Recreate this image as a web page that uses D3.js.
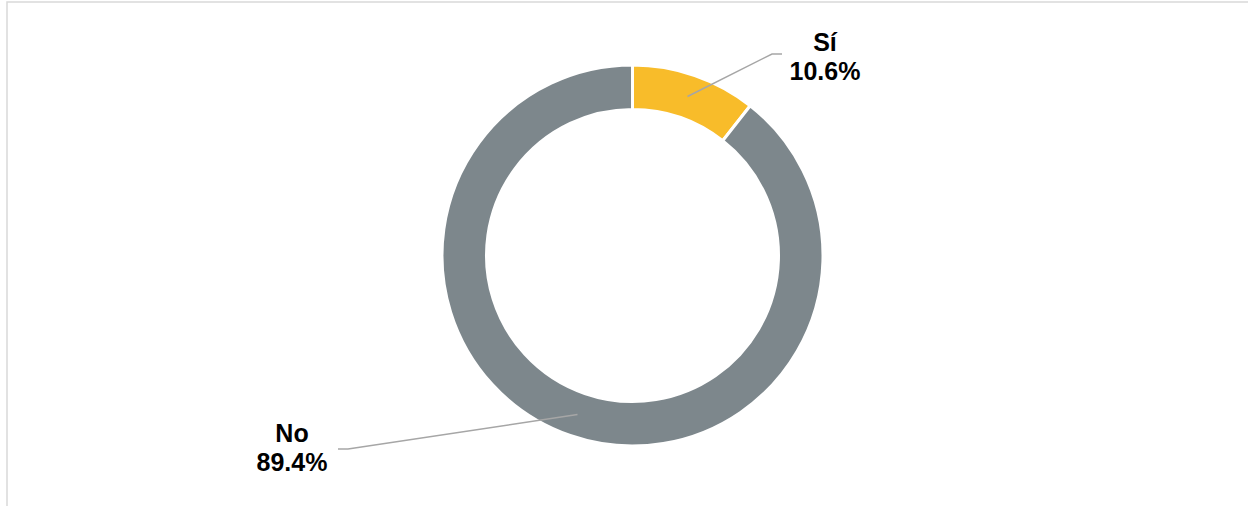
<!DOCTYPE html>
<html>
<head>
<meta charset="utf-8">
<script src="https://cdn.jsdelivr.net/npm/d3@7"></script>
<style>
  html, body { margin: 0; padding: 0; background: #fff; overflow: hidden; }
  text { font-family: Arial, "Liberation Sans", sans-serif; }
</style>
</head>
<body>
<div id="chart"></div>
<script>
const categories = ['Sí', 'No']
const values = [10.6, 89.4]
const slice_colors = ['#F8BC2A', '#7D878C']

const svg_width = 1248,
      svg_height = 506,
      center = [632.5, 255.5],
      outer_radius = 190.5,
      inner_radius = 146,
      label_font = '25px',
      leader_color = '#A6A6A6'

// where each label sits and where its leader line bends
const label_layout = {
  'Sí': { elbow: [772, 54], end: [782, 54], text: [825, 51] },
  'No': { elbow: [348, 449], end: [338, 449], text: [292, 442] }
}

function initialize_workspace() {
  let svg = d3.select('#chart')
    .append('svg')
    .attr('width', svg_width)
    .attr('height', svg_height)

  // chart frame, cut off at right and bottom
  svg.append('rect')
    .attr('x', 7)
    .attr('y', 2)
    .attr('width', svg_width + 20)
    .attr('height', svg_height + 20)
    .style('fill', 'none')
    .style('stroke', '#D9D9D9')
    .style('stroke-width', 1.5)

  return svg
}

function draw_donut(svg) {
  let data = categories.map((c, i) => ({ name: c, value: values[i], color: slice_colors[i] }))

  let pie = d3.pie().sort(null).value(d => d.value)
  let arc = d3.arc().innerRadius(inner_radius).outerRadius(outer_radius)

  let g = svg.append('g')
    .attr('transform', `translate(${center[0]},${center[1]})`)

  let arcs = pie(data)

  g.selectAll('path.slice')
    .data(arcs)
    .enter()
    .append('path')
    .attr('class', 'slice')
    .attr('d', arc)
    .style('fill', d => d.data.color)
    .style('stroke', '#FFFFFF')
    .style('stroke-width', 3)

  // leader lines + labels
  arcs.forEach(d => {
    let lay = label_layout[d.data.name]
    let c = arc.centroid(d)
    let start = [c[0] + center[0], c[1] + center[1]]

    svg.append('polyline')
      .attr('points', [start, lay.elbow, lay.end].map(p => p.join(',')).join(' '))
      .style('fill', 'none')
      .style('stroke', leader_color)
      .style('stroke-width', 1.5)

    let t = svg.append('text')
      .attr('x', lay.text[0])
      .attr('y', lay.text[1])
      .attr('text-anchor', 'middle')
      .style('font-size', label_font)
      .style('font-weight', 'bold')
      .style('fill', '#000')

    t.append('tspan')
      .attr('x', lay.text[0])
      .text(d.data.name)
    t.append('tspan')
      .attr('x', lay.text[0])
      .attr('dy', 29)
      .text(d3.format('.1f')(d.data.value) + '%')
  })
}

function main() {
  let svg = initialize_workspace()
  draw_donut(svg)
}

main()
</script>
</body>
</html>
